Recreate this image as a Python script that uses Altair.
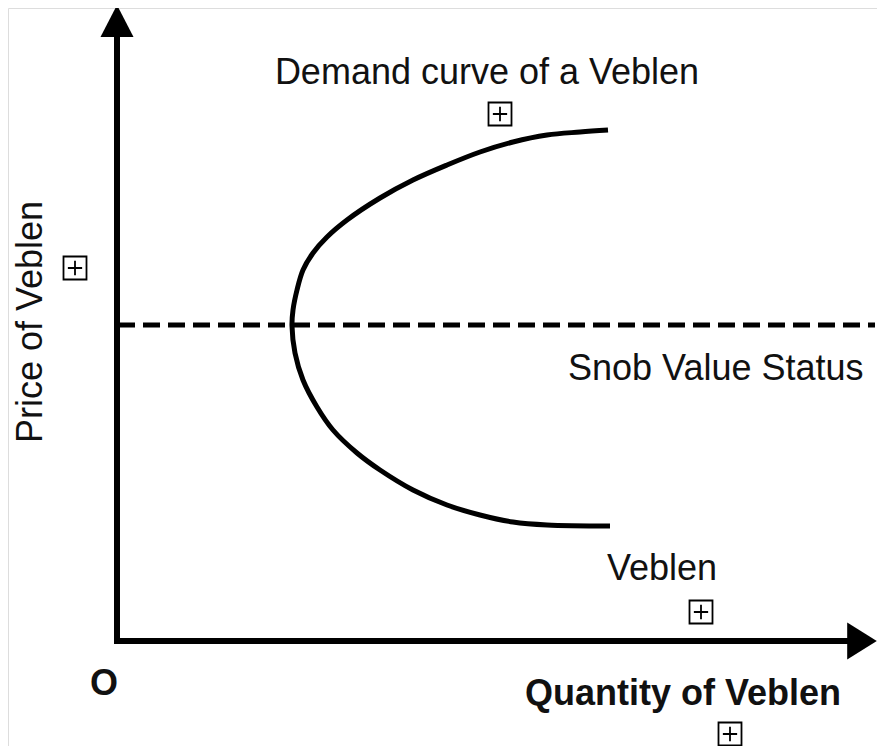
import altair as alt
import pandas as pd

# Demand curve of a Veblen good (quantity, price)
curve_q = [491, 463, 430, 396, 363, 330, 296, 263, 230, 210, 196, 186, 180, 176, 175,
           178, 186, 200, 216, 240, 263, 296, 330, 363, 396, 430, 493]
curve_p = [511, 509, 506, 499, 489, 476, 461, 443, 421, 404, 388, 371, 351, 331, 315,
           288, 261, 234, 211, 188, 171, 151, 136, 126, 119, 116, 115]

# Axes (polyline through the origin)
axis_q = [0, 0, 738]
axis_p = [604, 0, 0]

# Snob value status level
snob_price = 316
snob_q_start = 1
snob_q_end = 758

# Arrow heads
arrow_q = [0, 745]
arrow_p = [620, 0]
arrow_shape = ["M-1,0.97L1,0.97L0,-0.97Z", "M-0.8,-1L0.8,0L-0.8,1Z"]

# Boxed-plus markers
icon_q = [383, -42, 584, 613]
icon_p = [527, 373, 29, -93]

# Labels
label_texts = ["Demand curve of a Veblen", "Snob Value Status", "Veblen"]
label_q = [370, 451, 490]
label_p = [557, 261, 61]
label_align = ["center", "left", "left"]

bold_texts = ["Quantity of Veblen", "O"]
bold_q = [408, -13]
bold_p = [-64, -54]
bold_align = ["left", "center"]

ylabel_text = "Price of Veblen"
ylabel_q = -75
ylabel_p = 319

FONT = "Liberation Sans"
FS = 36

xs = alt.Scale(domain=[-109, 760], nice=False, zero=False)
ys = alt.Scale(domain=[-105, 633], nice=False, zero=False)

curve_df = pd.DataFrame({"q": curve_q, "p": curve_p, "i": list(range(len(curve_q)))})
axis_df = pd.DataFrame({"q": axis_q, "p": axis_p, "i": list(range(len(axis_q)))})
snob_df = pd.DataFrame({"q1": [snob_q_start], "q2": [snob_q_end], "p": [snob_price]})
icon_df = pd.DataFrame({"q": icon_q, "p": icon_p})

curve = alt.Chart(curve_df).mark_line(
    interpolate="catmull-rom", strokeWidth=5, color="black", strokeCap="butt"
).encode(
    x=alt.X("q:Q", scale=xs, axis=None),
    y=alt.Y("p:Q", scale=ys, axis=None),
    order="i:Q",
)

axes = alt.Chart(axis_df).mark_line(
    strokeWidth=6, color="black", strokeJoin="miter", strokeCap="square"
).encode(
    x=alt.X("q:Q", scale=xs, axis=None),
    y=alt.Y("p:Q", scale=ys, axis=None),
    order="i:Q",
)

arrows = []
for aq, ap, shp, sz in zip(arrow_q, arrow_p, arrow_shape, [33 * 33, 37 * 37]):
    adf = pd.DataFrame({"q": [aq], "p": [ap]})
    arrows.append(
        alt.Chart(adf).mark_point(
            shape=shp, filled=True, color="black", size=sz, opacity=1, strokeWidth=0
        ).encode(
            x=alt.X("q:Q", scale=xs, axis=None),
            y=alt.Y("p:Q", scale=ys, axis=None),
        )
    )

snob = alt.Chart(snob_df).mark_rule(
    strokeWidth=5, color="black", strokeDash=[17, 8]
).encode(
    x=alt.X("q1:Q", scale=xs, axis=None),
    x2="q2:Q",
    y=alt.Y("p:Q", scale=ys, axis=None),
)

icons = alt.Chart(icon_df).mark_point(
    shape="M-1,-1H1V1H-1Z M-0.62,0H0.62 M0,-0.62V0.62",
    filled=False, color="black", size=23 * 23, strokeWidth=1.8, opacity=1,
).encode(
    x=alt.X("q:Q", scale=xs, axis=None),
    y=alt.Y("p:Q", scale=ys, axis=None),
)

texts = []
for t, q, p, a in zip(label_texts, label_q, label_p, label_align):
    tdf = pd.DataFrame({"q": [q], "p": [p], "t": [t]})
    texts.append(
        alt.Chart(tdf).mark_text(
            font=FONT, fontSize=FS, align=a, baseline="alphabetic", color="#111111"
        ).encode(
            x=alt.X("q:Q", scale=xs, axis=None),
            y=alt.Y("p:Q", scale=ys, axis=None),
            text="t:N",
        )
    )
for t, q, p, a in zip(bold_texts, bold_q, bold_p, bold_align):
    tdf = pd.DataFrame({"q": [q], "p": [p], "t": [t]})
    texts.append(
        alt.Chart(tdf).mark_text(
            font=FONT, fontSize=FS, fontWeight="bold", align=a,
            baseline="alphabetic", color="#111111"
        ).encode(
            x=alt.X("q:Q", scale=xs, axis=None),
            y=alt.Y("p:Q", scale=ys, axis=None),
            text="t:N",
        )
    )

ydf = pd.DataFrame({"q": [ylabel_q], "p": [ylabel_p], "t": [ylabel_text]})
texts.append(
    alt.Chart(ydf).mark_text(
        font=FONT, fontSize=FS, align="center", baseline="alphabetic",
        angle=270, color="#111111"
    ).encode(
        x=alt.X("q:Q", scale=xs, axis=None),
        y=alt.Y("p:Q", scale=ys, axis=None),
        text="t:N",
    )
)

chart = alt.layer(snob, axes, *arrows, curve, icons, *texts).properties(
    width=869, height=738, padding=0, autosize=alt.AutoSizeParams(type="none")
).configure_view(strokeWidth=0, stroke="transparent").configure(background="white")

chart.save("out.html", embed_options={"renderer": "svg", "actions": False})
